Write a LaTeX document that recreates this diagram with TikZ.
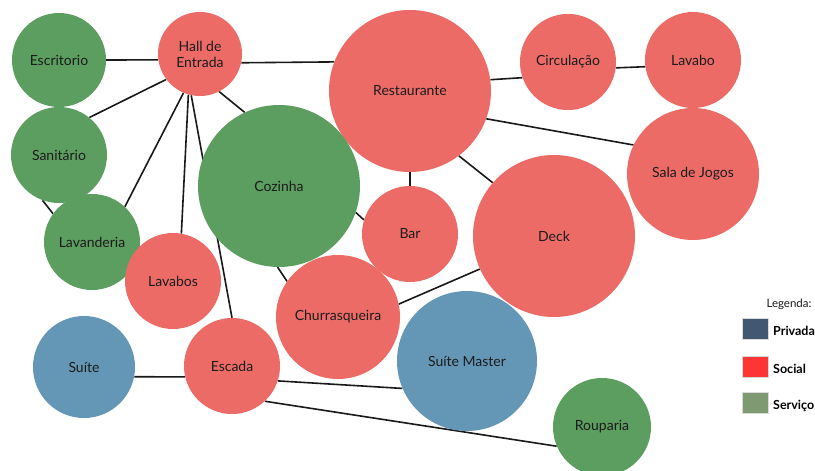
\documentclass[tikz,border=0pt]{standalone}
\usepackage{fontspec}
\setmainfont{Lato}
\definecolor{socc}{HTML}{EC6B66}
\definecolor{serc}{HTML}{5C9E5F}
\definecolor{pric}{HTML}{6496B6}
\definecolor{legpri}{HTML}{425872}
\definecolor{legsoc}{HTML}{FF3535}
\definecolor{legser}{HTML}{7E9A72}
\definecolor{txt}{HTML}{1C1C1C}
\pgfdeclarelayer{bg}
\pgfsetlayers{bg,main}
\begin{document}
\begin{tikzpicture}[x=1pt,y=-1pt,
  room/.style={circle, inner sep=0pt, text=txt, align=center,
    font=\fontsize{14}{16}\selectfont},
  soc/.style={room, fill=socc},
  ser/.style={room, fill=serc},
  pri/.style={room, fill=pric},
  link/.style={line width=1.6pt, black!90},
  legbox/.style={minimum width=26pt, minimum height=21pt, inner sep=0pt, draw=black!15, line width=0.4pt},
  leglab/.style={anchor=west, inner sep=0pt, font=\bfseries\fontsize{12.5}{14}\selectfont, text=black}
]
\useasboundingbox (0,0) rectangle (815,471);
\clip (0,0) rectangle (815,471);

\node[ser, minimum size=94pt]  (esc)    at (59,60)   {Escritorio};
\node[soc, minimum size=84pt]  (hall)   at (200,54)  {Hall de\\Entrada};
\node[soc, minimum size=162pt] (rest)   at (410,91)  {Restaurante};
\node[soc, minimum size=96pt]  (circ)   at (568,62)  {Circulação};
\node[soc, minimum size=96pt]  (lavabo) at (693,60)  {Lavabo};
\node[ser, minimum size=96pt]  (san)    at (59,155)  {Sanitário};
\node[ser, minimum size=162pt] (coz)    at (279,186) {Cozinha};
\node[soc, minimum size=132pt] (sala)   at (693,174) {Sala de Jogos};
\node[ser, minimum size=96pt]  (lavand) at (92,242)  {Lavanderia};
\node[soc, minimum size=96pt]  (bar)    at (410,234) {Bar};
\node[soc, minimum size=162pt] (deck)   at (554,236) {Deck};
\node[soc, minimum size=96pt]  (lavabos) at (173,281) {Lavabos};
\node[soc, minimum size=124pt] (churr)  at (338,317) {Churrasqueira};
\node[pri, minimum size=140pt] (sm)     at (467,361) {Suíte Master};
\node[pri, minimum size=102pt] (suite)  at (84,367)  {Suíte};
\node[soc, minimum size=96pt]  (escada) at (232,366) {Escada};
\node[ser, minimum size=98pt]  (roup)   at (602,427) {Rouparia};

\begin{pgfonlayer}{bg}
\fill[white] (0,0) rectangle (815,471);
\draw[link] (esc.east) -- (hall.188);
\draw[link] (hall.348) -- (rest.159);
\draw[link] (hall.217) -- (san.51);
\draw[link] (hall.247) -- (lavand.47);
\draw[link] (hall.254) -- (lavabos.80);
\draw[link] (hall.258) -- (escada.90);
\draw[link] (hall.297) -- (coz.115);
\draw[link] (san.250) -- (lavand.144);
\draw[link] (rest.8.5) -- (circ.199);
\draw[link] (circ.353) -- (lavabo.188);
\draw[link] (rest.-20) -- (sala.154);
\draw[link] (rest.south) -- (bar.north);
\draw[link] (rest.-53) -- (deck.139.5);
\draw[link] (coz.-19) -- (bar.163);
\draw[link] (coz.269) -- (churr.145);
\draw[link] (churr.12.7) -- (deck.204);
\draw[link] (suite.349) -- (escada.193);
\draw[link] (escada.-18) -- (sm.203.6);
\draw[link] (escada.-47.5) -- (roup.203);
\end{pgfonlayer}

\node[anchor=center, inner sep=0pt, font=\fontsize{11.5}{13}\selectfont, text=txt] (legt) at (789,304) {Legenda:};
\node[legbox, fill=legpri] (lp) at (755,328.5) {};
\node[legbox, fill=legsoc] (ls) at (755,366.5) {};
\node[legbox, fill=legser] (lv) at (755,402.5) {};
\node[leglab] (lpt) at (773,331) {Privada};
\node[leglab] (lst) at (773,369) {Social};
\node[leglab] (lvt) at (773,406) {Serviço};
\end{tikzpicture}
\end{document}
